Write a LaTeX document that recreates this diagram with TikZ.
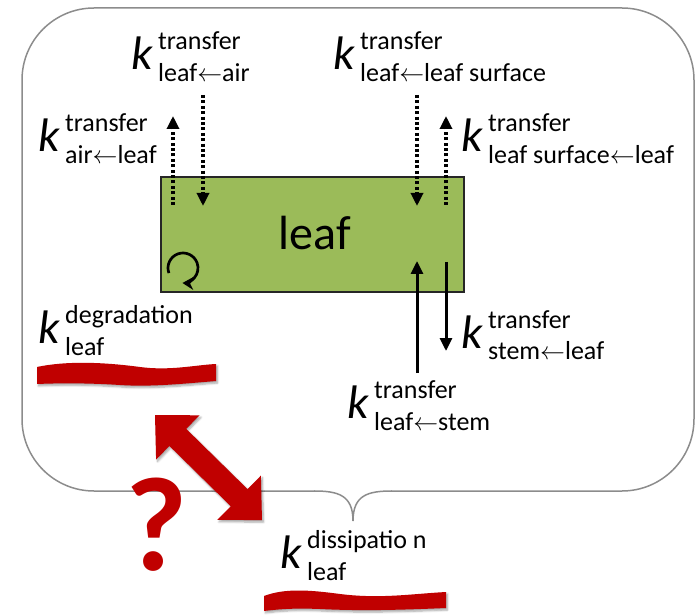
\documentclass[tikz,border=0pt]{standalone}
\usepackage{fontspec}
\setmainfont{Carlito}
\usetikzlibrary{arrows.meta,shadows.blur}

\definecolor{leafgreen}{HTML}{9BBB59}
\definecolor{markred}{HTML}{C00000}
\definecolor{framegray}{HTML}{8C8C8C}

% rate constant: k with a superscript and a subscript
\newcommand\kk[2]{\makebox[27pt][l]{\fontsize{47}{47}\selectfont\itshape k}%
  \rlap{\raisebox{20pt}{\fontsize{26}{26}\selectfont #1}}%
  \raisebox{-12pt}{\fontsize{26}{26}\selectfont #2}}
\newcommand\larr{\ensuremath{\leftarrow}}

\tikzset{
  klabel/.style={inner sep=0pt, anchor=base west, text=black},
  flowdot/.style={line width=3.2pt, dash pattern=on 3pt off 2.4pt,
    -{Triangle[width=12pt,length=13pt]}},
  flowsolid/.style={line width=3pt, -{Triangle[width=12pt,length=13pt]}},
  redmark/.style={fill=markred, blur shadow={shadow xshift=1.5pt, shadow yshift=-2pt,
    shadow blur steps=6, shadow opacity=35}},
}

\begin{document}
\begin{tikzpicture}[x=1pt, y=-1pt]
\useasboundingbox (0,0) rectangle (697,615);

% brace-shaped compartment outline
\draw[framegray, line width=1.5pt, rounded corners=72]
  (391,491) -- (694,491) -- (694,8) -- (22,8) -- (22,491) -- (315,491);
\draw[framegray, line width=1.5pt]
  (314,491) .. controls (338,491) and (353,495) .. (353,521)
            .. controls (353,495) and (368,491) .. (392,491);

% leaf compartment
\node[draw=black!85, line width=2pt, fill=leafgreen, minimum width=303pt,
  minimum height=115pt, inner sep=0pt] (leaf) at (312.5,234.5) {};
\node[inner sep=0pt, anchor=base] (leaftxt) at (315,250)
  {\fontsize{48}{48}\selectfont leaf};

% arrow end points
\coordinate (airout) at (173,116);
\coordinate (airoutS) at (173,205);
\coordinate (airin) at (203,95);
\coordinate (airinE) at (203,206);
\coordinate (surfin) at (417,95);
\coordinate (surfinE) at (417,206);
\coordinate (surfout) at (446,116);
\coordinate (surfoutS) at (446,205);
\coordinate (stemin) at (417,373);
\coordinate (steminE) at (417,261);
\coordinate (stemout) at (446,351);
\coordinate (stemoutS) at (446,262);

\draw[flowdot] (airoutS) -- (airout);
\draw[flowdot] (airin) -- (airinE);
\draw[flowdot] (surfin) -- (surfinE);
\draw[flowdot] (surfoutS) -- (surfout);
\draw[flowsolid] (stemin) -- (steminE);
\draw[flowsolid] (stemoutS) -- (stemout);

% degradation loop
\coordinate (loopc) at (183,268);
\draw[line width=2.7pt, -{Stealth[width=13pt,length=11pt]}]
  ([shift={(160:15)}]loopc) arc[start angle=160, end angle=452, radius=15];

% rate constants
\node[klabel] (k1) at (131,70) {\kk{transfer}{leaf\larr air}};
\node[klabel] (k2) at (38,152) {\kk{transfer}{air\larr leaf}};
\node[klabel] (k3) at (333,70) {\kk{transfer}{leaf\larr leaf surface}};
\node[klabel] (k4) at (461,152) {\kk{transfer}{leaf surface\larr leaf}};
\node[klabel] (k5) at (38,343) {\kk{degradation}{leaf}};
\node[klabel] (k6) at (461,348) {\kk{transfer}{stem\larr leaf}};
\node[klabel] (k7) at (347,418) {\kk{transfer}{leaf\larr stem}};
\node[klabel] (k8) at (280,568) {\kk{dissipatio n}{leaf}};

% red brush underlines
\path[redmark] (37,367) .. controls (70,360) and (110,363) .. (140,367)
  .. controls (170,371) and (195,365) .. (216,364) -- (216,381)
  .. controls (180,384) and (150,387) .. (120,385)
  .. controls (90,383) and (60,383) .. (37,384) -- cycle;
\path[redmark] (264,596) .. controls (285,588) and (310,590) .. (340,594)
  .. controls (380,599) and (410,594) .. (446,592) -- (446,608)
  .. controls (400,610) and (360,611) .. (320,609)
  .. controls (295,608) and (280,609) .. (264,611) -- cycle;

% double-headed block arrow
\begin{scope}[shift={(155,415)}, rotate=-44.5]
  \path[redmark] (0,0) -- (32,31) -- (32,12) -- (118,12) -- (118,31) -- (150,0)
    -- (118,-31) -- (118,-12) -- (32,-12) -- (32,-31) -- cycle;
\end{scope}

% question mark
\node[inner sep=0pt, anchor=base, text=markred] (qmark) at (157,570)
  {\fontsize{134}{134}\selectfont\bfseries ?};
\end{tikzpicture}
\end{document}
